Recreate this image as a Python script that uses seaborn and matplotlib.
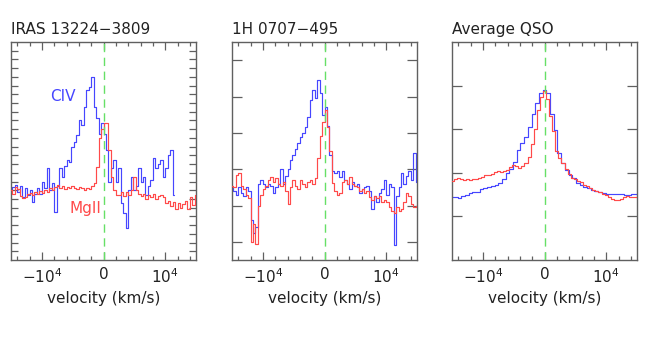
import numpy as np
import pandas as pd
import matplotlib
matplotlib.use("Agg")
import matplotlib.pyplot as plt
import seaborn as sns
from matplotlib.ticker import FixedLocator, FixedFormatter, MultipleLocator, NullFormatter

sns.set_style("ticks")
plt.rcParams['font.family'] = ['DejaVu Sans']
plt.rcParams['mathtext.default'] = 'regular'

# ---------------- data ----------------
titles = ["IRAS 13224\u22123809", "1H 0707\u2212495", "Average QSO"]
x_label = "velocity (km/s)"
tick_vals = [-10000, 0, 10000]
tick_labels = [r"$-10^4$", "0", r"$10^4$"]

# Panel 1 (IRAS 13224-3809): CIV (blue) and MgII (red), 400 km/s bins from -15000
civ1_start, civ1_step = -15000, 400
civ1 = [8.0, 8.4, 8.6, 7.8, 8.5, 7.2, 8.2, 7.5, 8.0, 6.6, 7.6, 8.3, 7.6, 9.0, 8.2,
        10.5, 8.0, 8.8, 5.5, 8.5, 10.5, 9.5, 10.8, 11.5, 11.2, 13.0, 13.5, 14.3,
        16.0, 15.5, 17.5, 19.5, 19.8, 21.0, 17.5, 16.3, 14.5, 15.7, 14.5, 12.6,
        9.0, 10.5, 11.5, 9.0, 10.5, 6.5, 5.4, 3.7, 8.0, 9.5, 8.0, 8.5, 10.5, 9.0,
        9.5, 7.5, 8.5, 9.2, 11.7, 10.5, 11.0, 11.5, 9.5, 10.5, 12.0, 12.6, 7.5]
mg1_start, mg1_step = -15000, 400
mg1 = [8.0, 7.6, 8.4, 8.1, 7.3, 7.1, 7.2, 7.6, 7.7, 7.5, 7.8, 7.6, 7.9, 7.7, 8.0,
       7.8, 8.2, 8.0, 8.4, 8.6, 8.3, 8.5, 8.1, 8.4, 8.2, 8.5, 8.3, 8.1, 8.4, 8.2,
       8.0, 8.3, 8.1, 8.5, 8.8, 10.7, 14.0, 15.0, 15.7, 15.7, 12.6, 9.5, 8.0, 7.5,
       7.5, 7.8, 7.3, 7.8, 7.5, 8.0, 9.5, 8.0, 7.6, 7.3, 7.6, 7.0, 7.4, 7.2, 7.6,
       7.0, 7.3, 7.5, 7.2, 6.5, 6.8, 6.2, 6.6, 5.8, 6.5, 6.0, 6.4, 6.8, 5.9, 7.2,
       6.3, 7.5]

# Panel 2 (1H 0707-495), 400 km/s bins from -15000
civ2_start, civ2_step = -15000, 400
civ2 = [2.5, 2.4, 2.3, 2.5, 2.35, 2.25, 2.5, 2.4, 1.6, 1.25, 1.4, 2.6, 2.7, 2.6,
        2.5, 2.6, 2.55, 2.35, 2.5, 2.6, 3.0, 2.6, 2.8, 3.0, 3.25, 3.4, 3.55, 3.72,
        3.89, 4.0, 4.16, 4.44, 4.9, 5.18, 4.95, 5.46, 5.1, 4.5, 4.7, 4.2, 3.4,
        2.95, 2.9, 2.95, 2.79, 2.95, 2.7, 2.6, 2.45, 2.65, 2.55, 2.6, 2.35, 2.45,
        2.5, 2.55, 2.4, 1.9, 2.25, 2.1, 2.35, 2.45, 2.7, 2.3, 2.6, 2.5, 0.9, 2.25,
        2.5, 2.9, 2.6, 2.8, 2.95, 2.7, 3.45, 2.65]
mg2_start, mg2_step = -15000, 400
mg2 = [2.55, 2.5, 2.85, 2.9, 2.55, 2.45, 2.3, 2.2, 1.0, 1.5, 0.95, 2.0, 2.3, 2.45,
       2.55, 2.7, 2.79, 2.65, 2.75, 2.6, 2.55, 2.65, 2.4, 2.05, 2.5, 2.7, 2.55,
       2.45, 2.7, 2.6, 2.5, 2.65, 2.7, 2.6, 2.75, 3.3, 3.9, 4.3, 4.63, 4.16, 3.5,
       2.62, 2.4, 2.29, 2.35, 2.65, 2.7, 2.6, 2.79, 2.6, 2.55, 2.5, 2.4, 2.45,
       2.35, 2.4, 2.24, 2.15, 2.25, 2.2, 2.25, 2.1, 2.15, 2.1, 1.96, 1.85, 1.8,
       1.95, 1.85, 1.9, 2.1, 2.35, 2.25, 2.05, 1.95, 2.0]

# Panel 3 (Average QSO)
civ3_start, civ3_step = -15000, 600
civ3 = [1.45, 1.44, 1.43, 1.47, 1.49, 1.53, 1.55, 1.57, 1.62, 1.64, 1.67, 1.69,
        1.72, 1.76, 1.85, 1.99, 2.08, 2.25, 2.52, 2.68, 2.83, 3.06, 3.36, 3.59,
        3.82, 3.91, 3.82, 3.36, 2.98, 2.45, 2.22, 2.06, 1.95, 1.87, 1.76, 1.72,
        1.68, 1.64, 1.61, 1.58, 1.55, 1.53, 1.52, 1.52, 1.51, 1.51, 1.51, 1.50,
        1.50, 1.51, 1.51]
mg3_start, mg3_step = -15000, 500
mg3 = [1.82, 1.86, 1.87, 1.85, 1.83, 1.85, 1.84, 1.85, 1.86, 1.87, 1.91, 1.96,
       1.95, 1.98, 2.02, 2.03, 2.01, 2.04, 2.07, 2.13, 2.18, 2.15, 2.10, 2.16,
       2.23, 2.37, 2.65, 3.0, 3.45, 3.75, 3.88, 3.7, 3.3, 2.95, 2.5, 2.33, 2.22,
       2.08, 1.98, 1.89, 1.85, 1.81, 1.78, 1.73, 1.69, 1.65, 1.61, 1.58, 1.55,
       1.51, 1.48, 1.44, 1.39, 1.37, 1.38, 1.41, 1.44, 1.46, 1.45, 1.45, 1.44]

panels = [
    (civ1_start, civ1_step, civ1, mg1_start, mg1_step, mg1),
    (civ2_start, civ2_step, civ2, mg2_start, mg2_step, mg2),
    (civ3_start, civ3_step, civ3, mg3_start, mg3_step, mg3),
]
ylims = [(0, 25), (0.5, 6.5), (0, 5)]
yticks = [np.arange(1, 25, 1), np.arange(1, 7, 1), np.arange(1, 5, 1)]

# ---------------- plot ----------------
BLUE = "#4646ff"
RED = "#ff4a4a"
GREEN = "#66e066"
FRAME = "#606060"

fig = plt.figure(figsize=(6.58, 3.38), dpi=100)
lefts = [11 / 658, 232 / 658, 452 / 658]
W = 185 / 658
B = 1 - 260 / 338
H = 218 / 338

for k, (cs, cst, cv, ms, mst, mv) in enumerate(panels):
    ax = fig.add_axes([lefts[k], B, W, H])
    df_c = pd.DataFrame({"v": cs + cst * np.arange(len(cv)), "f": cv})
    df_m = pd.DataFrame({"v": ms + mst * np.arange(len(mv)), "f": mv})
    sns.lineplot(data=df_m, x="v", y="f", ax=ax, color=RED, lw=0.85,
                 drawstyle="steps-mid", estimator=None, zorder=3)
    sns.lineplot(data=df_c, x="v", y="f", ax=ax, color=BLUE, lw=0.85,
                 drawstyle="steps-mid", estimator=None, zorder=2)
    ax.axvline(0, color=GREEN, lw=1.0, ls=(0, (6, 4)), zorder=4)
    ax.set_xlim(-15000, 15000)
    ax.set_ylim(*ylims[k])
    ax.xaxis.set_major_locator(FixedLocator(tick_vals))
    ax.xaxis.set_major_formatter(FixedFormatter(tick_labels))
    ax.xaxis.set_minor_locator(MultipleLocator(2000))
    ax.yaxis.set_major_locator(FixedLocator(yticks[k]))
    ax.yaxis.set_major_formatter(NullFormatter())
    ax.tick_params(axis="both", which="both", direction="in", top=True, right=True,
                   color=FRAME, width=0.9)
    ax.tick_params(axis="x", which="major", length=6, labelsize=11, pad=5,
                   labelcolor="#222222")
    ax.tick_params(axis="x", which="minor", length=3)
    ax.tick_params(axis="y", which="major", length=5 if k == 0 else 7)
    for s in ax.spines.values():
        s.set_color(FRAME)
        s.set_linewidth(1.0)
    ax.set_xlabel(x_label, fontsize=11, color="#222222", labelpad=4)
    ax.set_ylabel("")
    ax.set_title(titles[k], loc="left", fontsize=11, color="#222222", pad=6)

    if k == 0:
        ax.text(-6600, 18.7, "CIV", color=BLUE, fontsize=11, ha="center", va="center")
        ax.text(-2850, 5.85, "MgII", color=RED, fontsize=11, ha="center", va="center")

fig.savefig("out.png", dpi=100)
